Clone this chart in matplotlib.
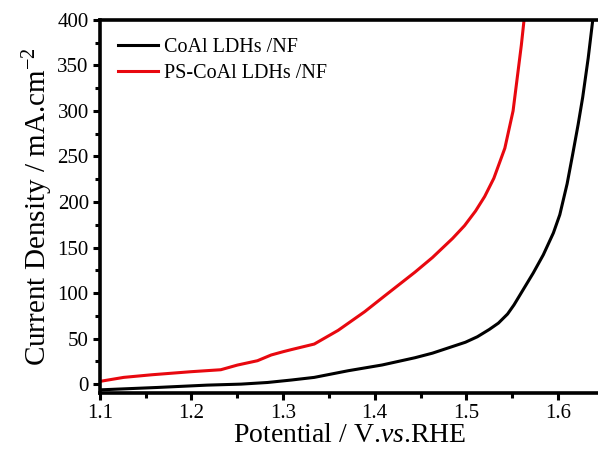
import matplotlib
matplotlib.use("Agg")
import matplotlib.pyplot as plt
from matplotlib.ticker import MultipleLocator

plt.rcParams['font.family'] = ['Liberation Serif', 'DejaVu Serif']
plt.rcParams['mathtext.fontset'] = 'custom'
plt.rcParams['mathtext.rm'] = 'Liberation Serif'
plt.rcParams['mathtext.it'] = 'Liberation Serif:italic'

# CoAl LDHs /NF (black)
v_coal = [1.100, 1.162, 1.217, 1.254, 1.283, 1.309, 1.334, 1.371, 1.408, 1.444,
          1.463, 1.481, 1.499, 1.512, 1.525, 1.535, 1.545, 1.552, 1.558, 1.573,
          1.584, 1.595, 1.602, 1.610, 1.616, 1.622, 1.627, 1.633, 1.638]
j_coal = [-6.3, -3.7, -1.1, 0.0, 1.8, 4.5, 7.4, 14.7, 21, 29,
          34, 40, 46, 52, 60, 67, 77, 87, 97, 122,
          142, 166, 186, 220, 252, 285, 315, 358, 400]

# PS-CoAl LDHs /NF (red)
v_ps = [1.100, 1.126, 1.157, 1.199, 1.232, 1.250, 1.272, 1.287, 1.300, 1.309,
        1.334, 1.360, 1.389, 1.411, 1.444, 1.463, 1.485, 1.498, 1.510, 1.520,
        1.530, 1.542, 1.551, 1.556, 1.560, 1.563]
j_ps = [3.0, 7.4, 10.3, 13.6, 15.8, 20.9, 25.7, 32, 35.6, 37.9,
        44, 59, 79.5, 97, 123, 139, 160, 174, 190, 206,
        226, 259, 300, 340, 372, 400]

fig = plt.figure(figsize=(5.98, 4.61), dpi=100)
ax = fig.add_axes([0.167, 0.147, 0.835, 0.81])

ax.plot(v_coal, j_coal, color='black', lw=2.2, label='CoAl LDHs /NF')
ax.plot(v_ps, j_ps, color='#e8080f', lw=2.2, label='PS-CoAl LDHs /NF')

ax.set_xlim(1.1, 1.645)
ax.set_ylim(-10, 400)
ax.xaxis.set_major_locator(MultipleLocator(0.1))
ax.xaxis.set_minor_locator(MultipleLocator(0.05))
ax.yaxis.set_major_locator(MultipleLocator(50))
ax.yaxis.set_minor_locator(MultipleLocator(25))
ax.tick_params(which='both', direction='out', width=2.2, labelsize=15, pad=3)
ax.tick_params(which='major', length=5)
ax.tick_params(which='minor', length=3.5)
for s in ['left', 'bottom', 'top']:
    ax.spines[s].set_linewidth(2.6)
ax.spines['right'].set_visible(False)

ax.set_xlabel('Potential / V.$\\mathit{vs}$.RHE', fontsize=20, labelpad=0)
ax.set_ylabel('Current Density / mA.cm$^{-2}$', fontsize=21, labelpad=2)

ax.legend(loc='upper left', frameon=False, fontsize=14.5, handlelength=2.0,
          handletextpad=0.3, borderaxespad=0.5, labelspacing=0.35)

fig.savefig('out.png', dpi=100)
